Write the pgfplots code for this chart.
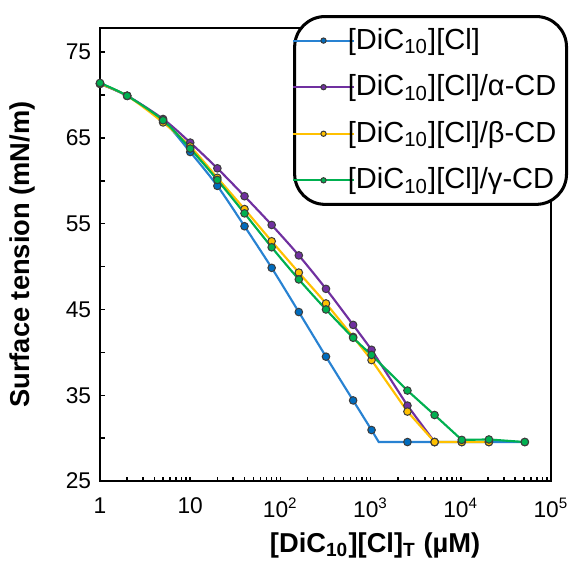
\documentclass[border=0pt]{standalone}
\usepackage{fontspec}
\setmainfont{Liberation Sans}
\usepackage{pgfplots}
\pgfplotsset{compat=1.18}
\definecolor{lBlue}{RGB}{40,130,210}
\definecolor{fBlue}{RGB}{0,108,190}
\definecolor{cPurp}{RGB}{112,48,160}
\definecolor{cYell}{RGB}{255,192,0}
\definecolor{cGreen}{RGB}{0,176,80}
\definecolor{mk}{RGB}{60,60,60}

\begin{document}
\begin{tikzpicture}
\begin{semilogxaxis}[
  scale only axis, width=178.5pt, height=179.3pt,
  xmin=1, xmax=1e5, ymin=25, ymax=77.8,
  xtick={1,10,100,1000,10000,100000},
  xticklabels={1,10,10\textsuperscript{2},10\textsuperscript{3},10\textsuperscript{4},10\textsuperscript{5}},
  ytick={25,35,45,55,65,75}, yticklabels={25,35,45,55,65,75},
  minor ytick={30,40,50,60,70},
  tick align=inside, xtick pos=bottom, ytick pos=left,
  major tick length=1.8pt, minor tick length=1.8pt,
  every tick/.style={black, line width=0.6pt},
  axis line style={line width=0.8pt},
  tick label style={font=\fontsize{9}{11}\selectfont},
  xticklabel style={yshift=-3pt},
  label style={font=\bfseries\fontsize{10.8}{13}\selectfont},
  xlabel={[DiC\textsubscript{10}][Cl]\textsubscript{T} (µM)},
  ylabel={Surface tension (mN/m)},
  xlabel style={anchor=center, at={(axis description cs:0.61,-0.141)}},
  ylabel style={anchor=center, at={(axis description cs:-0.173,0.5)}},
  every axis plot/.append style={line width=0.85pt, mark=*, mark size=1.5pt},
  legend image code/.code={
    \path (-1pt,0pt);
    \draw[#1, mark size=1.05pt, mark repeat=2, mark phase=2]
      plot coordinates {(0pt,0pt) (7pt,0pt) (14pt,0pt)};
  },
  legend cell align=left,
  legend style={at={(1.0377,1.0287)}, anchor=north east,
    draw=black, line width=1.2pt, rounded corners=12pt,
    font=\fontsize{11.5}{13.5}\selectfont,
    nodes={inner xsep=1pt},
    row sep=4.6pt, column sep=1.2pt, inner xsep=3pt, inner ysep=2.6pt, fill=white},
]
% [DiC10][Cl]
\addplot[lBlue, smooth, mark options={fill=fBlue, draw=mk, line width=0.4pt}] coordinates {
  (1,71.3) (2,69.9) (5,67.0) (10,63.35) (20,59.4) (40,54.7) (80,49.85)
  (160,44.7) (320,39.5) (640,34.4) (1024,30.95)};
\addlegendentry{[DiC\textsubscript{10}][Cl]}
\addplot[lBlue, forget plot, mark indices={3,4,5,6,7}, mark options={fill=fBlue, draw=mk, line width=0.4pt}] coordinates {
  (1024,30.95) (1230,29.55) (2560,29.55) (5120,29.55) (10240,29.55) (20480,29.55) (51200,29.55)};
% alpha-CD
\addplot[cPurp, smooth, mark options={fill=cPurp, draw=mk, line width=0.4pt}] coordinates {
  (1,71.3) (2,69.9) (5,67.2) (10,64.45) (20,61.45) (40,58.2) (80,54.85)
  (160,51.3) (320,47.4) (640,43.2) (1024,40.3)};
\addlegendentry{[DiC\textsubscript{10}][Cl]/α-CD}
\addplot[cPurp, forget plot, mark indices={2,3}, mark options={fill=cPurp, draw=mk, line width=0.4pt}] coordinates {
  (1024,40.3) (2560,33.8) (5120,29.55)};
% beta-CD
\addplot[cYell, smooth, mark options={fill=cYell, draw=mk, line width=0.4pt}] coordinates {
  (1,71.3) (2,69.9) (5,66.8) (10,64.0) (20,60.35) (40,56.7) (80,52.95)
  (160,49.3) (320,45.7) (640,41.8) (1024,39.1)};
\addlegendentry{[DiC\textsubscript{10}][Cl]/β-CD}
\addplot[cYell, forget plot, mark indices={2,3,4,5}, mark options={fill=cYell, draw=mk, line width=0.4pt}] coordinates {
  (1024,39.1) (2560,33.1) (5120,29.55) (10240,29.55) (20480,29.55)};
% gamma-CD
\addplot[cGreen, smooth, mark options={fill=cGreen, draw=mk, line width=0.4pt}] coordinates {
  (1,71.4) (2,69.9) (5,67.05) (10,63.75) (20,60.1) (40,56.2) (80,52.25)
  (160,48.5) (320,45.0) (640,41.7) (1024,39.7)};
\addlegendentry{[DiC\textsubscript{10}][Cl]/γ-CD}
\addplot[cGreen, forget plot, mark indices={2,3,4,5,6}, mark options={fill=cGreen, draw=mk, line width=0.4pt}] coordinates {
  (1024,39.7) (2560,35.55) (5120,32.7) (10240,29.8) (20480,29.85) (51200,29.55)};
\end{semilogxaxis}
\pgfresetboundingbox
\path[use as bounding box] (-39.58pt,-36.02pt) rectangle (187.2pt,190.4pt);
\end{tikzpicture}
\end{document}
